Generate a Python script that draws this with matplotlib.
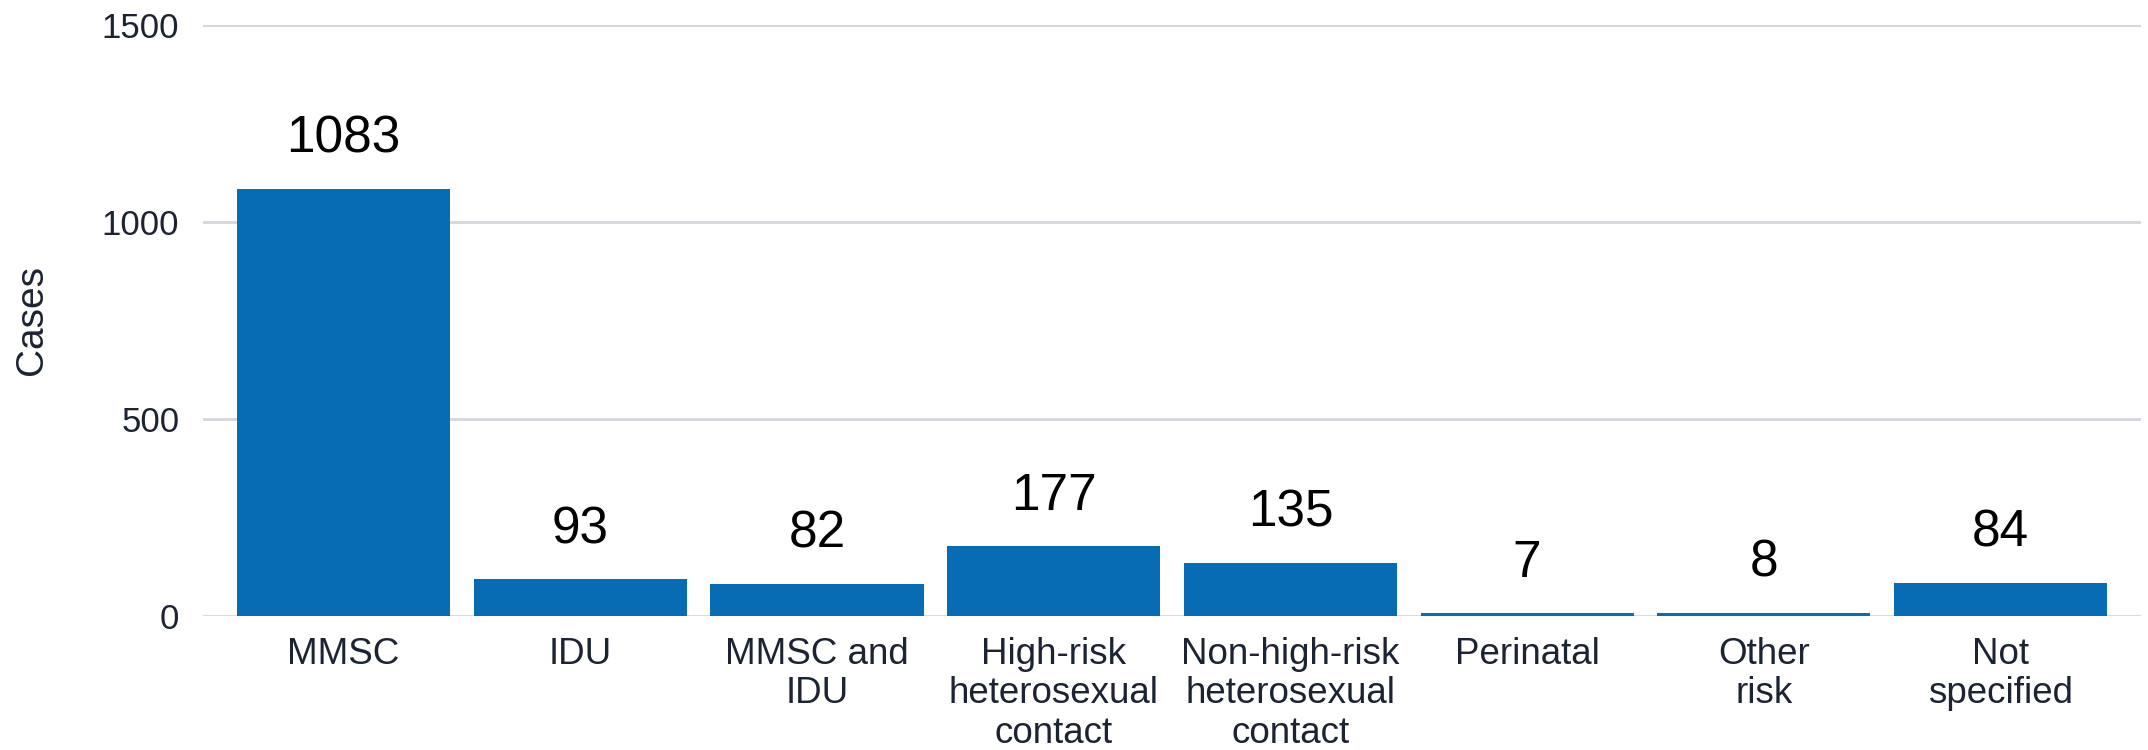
import matplotlib
matplotlib.use("Agg")
import matplotlib.pyplot as plt

categories = ["MMSC", "IDU", "MMSC and\nIDU", "High-risk\nheterosexual\ncontact",
              "Non-high-risk\nheterosexual\ncontact", "Perinatal", "Other\nrisk", "Not\nspecified"]
cases = [1083, 93, 82, 177, 135, 7, 8, 84]
yticks = [0, 500, 1000, 1500]

plt.rcParams['font.family'] = ['Liberation Sans', 'DejaVu Sans']

fig = plt.figure(figsize=(21.48, 7.5), dpi=100)
ax = fig.add_axes([0.0945, 0.1787, 0.9023, 0.7883])

x = list(range(len(categories)))
ax.bar(x, cases, width=0.9, color="#076cb4", zorder=3)
ax.set_xlim(-0.594, len(categories) - 1 + 0.594)
ax.set_ylim(0, 1500)
ax.set_yticks(yticks)
ax.set_yticklabels([str(t) for t in yticks])
ax.yaxis.grid(True, color="#d3d6dc", linewidth=2, zorder=0)
ax.set_axisbelow(True)
for s in ax.spines.values():
    s.set_visible(False)
ax.tick_params(axis='both', length=0, colors="#1c2433")
ax.tick_params(axis='y', pad=17, labelsize=25)
ax.tick_params(axis='x', pad=15, labelsize=26.5)
ax.set_xticks(x)
ax.set_xticklabels(categories, linespacing=1.17)

for xi, v in zip(x, cases):
    ax.annotate(str(v), (xi, v), xytext=(0, 26), textcoords='offset points',
                ha='center', va='baseline', fontsize=37, color='black')

ax.set_ylabel("Cases", fontsize=28, color="#1c2433")
ax.yaxis.set_label_coords(-0.079, 0.5)

fig.savefig("out.png", dpi=100)
